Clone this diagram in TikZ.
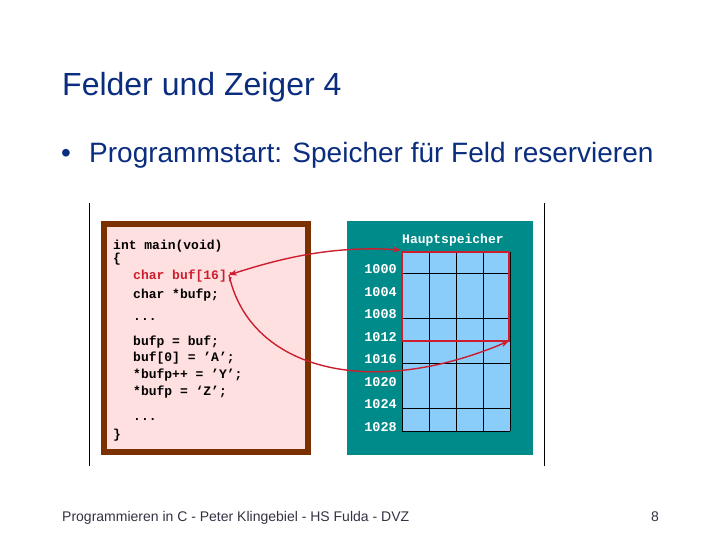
\documentclass[tikz,border=0pt]{standalone}
\usepackage{fontspec}
\setmainfont{Liberation Sans}
\newfontfamily\codefont{Liberation Mono}
\usetikzlibrary{arrows.meta,calc}
\definecolor{titleblue}{HTML}{0B2D7F}
\definecolor{footgray}{HTML}{333344}
\definecolor{framebrown}{HTML}{7B3000}
\definecolor{codebg}{HTML}{FFE0E0}
\definecolor{memteal}{HTML}{008B8B}
\definecolor{cellblue}{HTML}{8ACCFA}
\definecolor{ptrred}{HTML}{CC1E2E}
\tikzset{
  slidetext/.style={anchor=base west, inner sep=0pt, text=titleblue},
  codeline/.style={anchor=mid west, inner sep=0pt, font=\codefont\bfseries\fontsize{13}{15}\selectfont},
  addr/.style={anchor=mid east, inner sep=0pt, text=white, font=\codefont\bfseries\fontsize{13.5}{15}\selectfont},
  ptr/.style={draw=ptrred, line width=1.4pt},
  tip/.tip={Stealth[length=8pt,width=6pt]}
}

\begin{document}
\begin{tikzpicture}[x=1pt,y=-1pt]
  \useasboundingbox[fill=white] (0,0) rectangle (720,540);

  % slide texts
  \node[slidetext, font=\fontsize{32}{38}\selectfont] (title) at (62,96) {Felder und Zeiger 4};
  \node[slidetext, font=\fontsize{28}{32}\selectfont] (dot) at (61,163) {•};
  \node[slidetext, font=\fontsize{28}{32}\selectfont] (bullet) at (89,163) {Programmstart: Speicher für Feld reservieren};
  \node[slidetext, text=footgray, font=\fontsize{14}{16}\selectfont] (foot) at (62,521) {Programmieren in C - Peter Klingebiel - HS Fulda - DVZ};
  \node[slidetext, text=footgray, font=\fontsize{14}{16}\selectfont] (page) at (651,521) {8};

  % frame lines
  \draw[line width=0.8pt] (89,203) -- (89,466);
  \draw[line width=0.8pt] (544,203) -- (544,466);

  % code box
  \draw[framebrown, fill=codebg, line width=6pt] (104,224) rectangle (308,452);
  \node[codeline] (l1) at (113,247) {int main(void)};
  \node[codeline] (l2) at (113,260) {\{};
  \node[codeline, text=ptrred] (bufdecl) at (133,277) {char buf[16];};
  \node[codeline] (l4) at (133,296) {char *bufp;};
  \node[codeline] (l5) at (133,318) {...};
  \node[codeline] (l6) at (133,343) {bufp = buf;};
  \node[codeline] (l7) at (133,359) {buf[0] = ’A’;};
  \node[codeline] (l8) at (133,376) {*bufp++ = ’Y’;};
  \node[codeline] (l9) at (133,393) {*bufp = ‘Z’;};
  \node[codeline] (l10) at (133,418) {...};
  \node[codeline] (l11) at (113,436) {\}};

  % main memory
  \fill[memteal] (347,221) rectangle (533,455);
  \node[codeline, text=white] (mem) at (402,241) {Hauptspeicher};
  \fill[cellblue] (402,252) rectangle (510,431);
  \foreach \x in {402,429,456,483,510}
    \draw[line width=1pt] (\x,252) -- (\x,431);
  \foreach \y in {252,273,318,363,408,431}
    \draw[line width=1pt] (402,\y) -- (510,\y);
  \foreach \a [count=\i from 0] in {1000,1004,1008,1012,1016,1020,1024,1028}
    \node[addr] (a\a) at (397,271+22.5*\i) {\a};

  \coordinate (bufstart) at (402,252);
  \coordinate (bufend) at (509,341);
  \draw[ptrred, line width=2pt] (bufstart) rectangle (bufend);

  % pointers
  \coordinate (bufref) at (229,275);
  \draw[ptr, tip-tip] (bufref) .. controls (290,255) and (340,246) .. ($(bufstart)+(-1,-2)$);
  \draw[ptr, -tip] (bufref) .. controls (250,370) and (370,400) .. (bufend);
\end{tikzpicture}
\end{document}
